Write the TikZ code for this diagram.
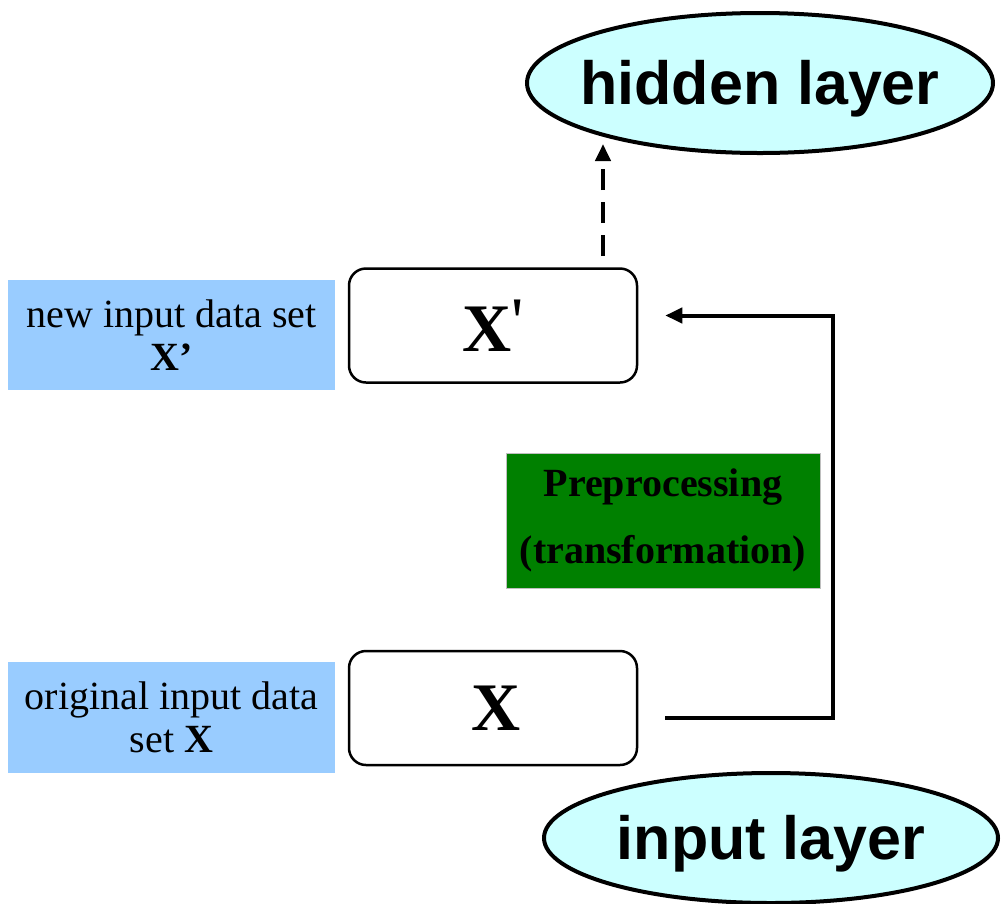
\documentclass[tikz,border=0pt]{standalone}
\usepackage{fontspec}
\setmainfont{Liberation Serif}
\newfontfamily\arialfont{Liberation Sans}
\newfontfamily\plainserif{Liberation Serif}
\usetikzlibrary{arrows.meta,shapes.geometric,calc}
\definecolor{lblue}{HTML}{99CCFF}
\definecolor{lcyan}{HTML}{CCFFFF}
\definecolor{dgreen}{HTML}{008000}
\newcommand{\centred}[1]{\smash{\makebox[0pt]{#1}}}
\begin{document}
\begin{tikzpicture}[x=1pt,y=-1pt,
  lbl/.style={fill=lblue, draw=none, minimum width=327pt, minimum height=110pt,
    align=center, inner sep=0pt, font=\fontsize{40}{43}\selectfont},
  databox/.style={draw, line width=2.5pt, rounded corners=17pt, fill=white,
    minimum width=288pt, minimum height=114pt, inner sep=0pt,
    font=\bfseries\fontsize{68}{70}\selectfont},
  layer/.style={ellipse, draw, line width=4pt, fill=lcyan, inner sep=0pt,
    font=\arialfont\bfseries\fontsize{61}{63}\selectfont},
  prep/.style={fill=dgreen, draw=gray!50, line width=0.8pt, minimum width=314pt,
    minimum height=135pt, align=center, inner sep=0pt,
    font=\bfseries\fontsize{40}{67}\selectfont},
  conn/.style={line width=4pt, -{Triangle[length=17pt,width=15pt]}},
  dconn/.style={conn, dash pattern=on 21pt off 12pt}
]
\useasboundingbox (0,0) rectangle (1001,903);
\node[layer, minimum width=466pt, minimum height=140pt] (hidden) at (760,83) {\centred{\raisebox{-0.36em}{hidden layer}}};
\node[layer, minimum width=454pt, minimum height=130pt] (input) at (771,838) {\centred{\raisebox{-0.36em}{input layer}}};
\node[lbl] (lnew) at (171.5,335) {new input data set\\ \textbf{X’}};
\node[lbl, minimum height=111pt] (lorig) at (171.5,717.5) {original input data\\ set \textbf{X}};
\node[databox] (Xp) at (493,325.5) {X{\plainserif\mdseries\raisebox{0.1em}{'}}};
\node[databox] (X) at (493,708) {\hspace{6pt}X};
\node[prep] (pre) at (663,520.5) {Preprocessing\\(transformation)};
\coordinate (xs) at ($(X.east)+(27,10)$);
\coordinate (xt) at ($(Xp.east)+(27,-10)$);
\draw[conn] (xs) -- ++(168,0) |- (xt);
\coordinate (ds) at (603,256);
\coordinate (de) at (603,144);
\draw[dconn] (ds) -- (de);
\end{tikzpicture}
\end{document}
